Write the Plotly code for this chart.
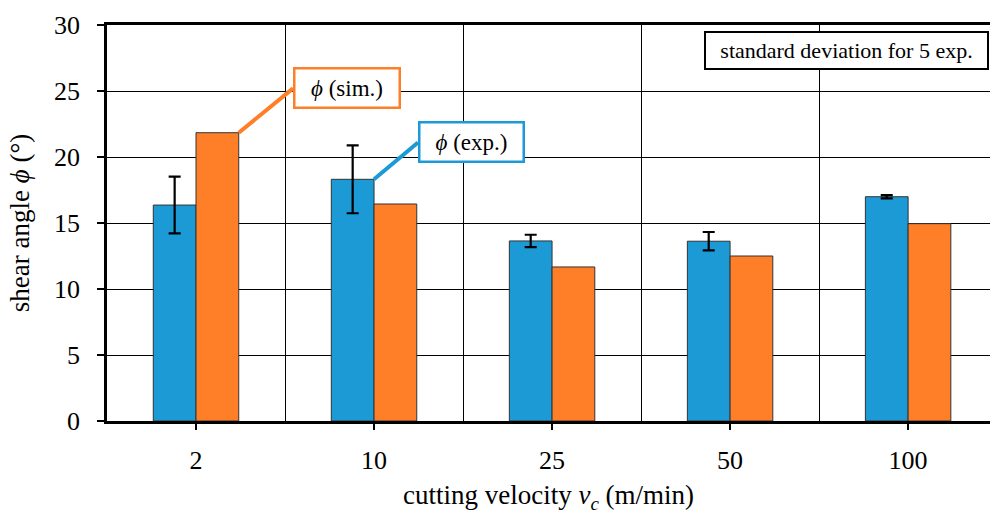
import plotly.graph_objects as go

categories = ["2", "10", "25", "50", "100"]
exp_values = [16.36, 18.31, 13.64, 13.62, 16.99]
exp_std = [2.15, 2.57, 0.47, 0.70, 0.12]
sim_values = [21.84, 16.44, 11.67, 12.50, 14.95]
y_ticks = [0, 5, 10, 15, 20, 25, 30]

BLUE = "#1b9ad6"
ORANGE = "#fe7f27"
FONT = "'Liberation Serif', 'Times New Roman', serif"
BAR_W = 0.24
PHI = "ϕ"

xpos = list(range(len(categories)))

fig = go.Figure()
fig.add_trace(go.Bar(
    x=xpos, y=exp_values, width=BAR_W, offset=-BAR_W,
    marker=dict(color=BLUE, line=dict(color="#333333", width=1)),
    error_y=dict(type="data", array=exp_std, visible=True, color="black",
                 thickness=2.2, width=6),
    name="exp.", showlegend=False,
))
fig.add_trace(go.Bar(
    x=xpos, y=sim_values, width=BAR_W, offset=0,
    marker=dict(color=ORANGE, line=dict(color="#333333", width=1)),
    name="sim.", showlegend=False,
))

# leader lines from bar tops to label boxes
SIM_BOX = (0.545, 25.2)
EXP_BOX = (1.247, 21.1)
fig.add_shape(type="line", xref="x", yref="y",
              x0=xpos[0] + BAR_W, y0=sim_values[0], x1=SIM_BOX[0], y1=SIM_BOX[1],
              line=dict(color=ORANGE, width=4), layer="above")
fig.add_shape(type="line", xref="x", yref="y",
              x0=xpos[1], y0=exp_values[1], x1=EXP_BOX[0], y1=EXP_BOX[1],
              line=dict(color=BLUE, width=4), layer="above")

fig.add_annotation(x=SIM_BOX[0], y=SIM_BOX[1], xref="x", yref="y", xanchor="left", yanchor="middle",
                   text=f"<i>{PHI}</i> (sim.)", showarrow=False,
                   font=dict(family=FONT, size=23, color="black"),
                   bgcolor="white", bordercolor=ORANGE, borderwidth=2.5,
                   borderpad=3, width=97, height=31, align="center")
fig.add_annotation(x=EXP_BOX[0], y=EXP_BOX[1], xref="x", yref="y", xanchor="left", yanchor="middle",
                   text=f"<i>{PHI}</i> (exp.)", showarrow=False,
                   font=dict(family=FONT, size=23, color="black"),
                   bgcolor="white", bordercolor=BLUE, borderwidth=2.5,
                   borderpad=3, width=96, height=31, align="center")
fig.add_annotation(x=0.9985, y=0.985, xref="paper", yref="paper", xanchor="right", yanchor="top",
                   text="standard deviation for 5 exp.", showarrow=False,
                   font=dict(family=FONT, size=22, color="black"),
                   bgcolor="white", bordercolor="black", borderwidth=2,
                   borderpad=4, width=273, height=27, align="center")

fig.update_layout(
    width=990, height=515,
    margin=dict(l=107, r=0, t=25, b=94),
    plot_bgcolor="white", paper_bgcolor="white",
    font=dict(family=FONT, size=26, color="black"),
    barmode="overlay",
    xaxis=dict(
        range=[-0.5, 4.46], tickvals=xpos, ticktext=categories,
        showgrid=False, zeroline=False,
        showline=True, linecolor="black", linewidth=2.5, mirror=True,
        ticks="outside", ticklen=6, tickwidth=2, tickcolor="black",
        ticklabelstandoff=8,
        tickfont=dict(family=FONT, size=26),
        minor=dict(tickvals=[0.5, 1.5, 2.5, 3.5], showgrid=True,
                   gridcolor="black", gridwidth=1, ticks=""),
        title=dict(text="cutting velocity <i>v</i><sub><i>c</i></sub> (m/min)",
                   font=dict(family=FONT, size=27), standoff=12),
    ),
    yaxis=dict(
        range=[0, 30], tickvals=y_ticks,
        showgrid=True, gridcolor="black", gridwidth=1,
        zeroline=False,
        showline=True, linecolor="black", linewidth=2.5,
        ticks="outside", ticklen=7, tickwidth=2, tickcolor="black",
        ticklabelstandoff=12,
        tickfont=dict(family=FONT, size=26),
        title=dict(text=f"shear angle <i>{PHI}</i> (°)",
                   font=dict(family=FONT, size=27), standoff=17),
    ),
)

fig.write_html("out.html", config={"displayModeBar": False},
               post_script="document.body.style.margin='0';")
